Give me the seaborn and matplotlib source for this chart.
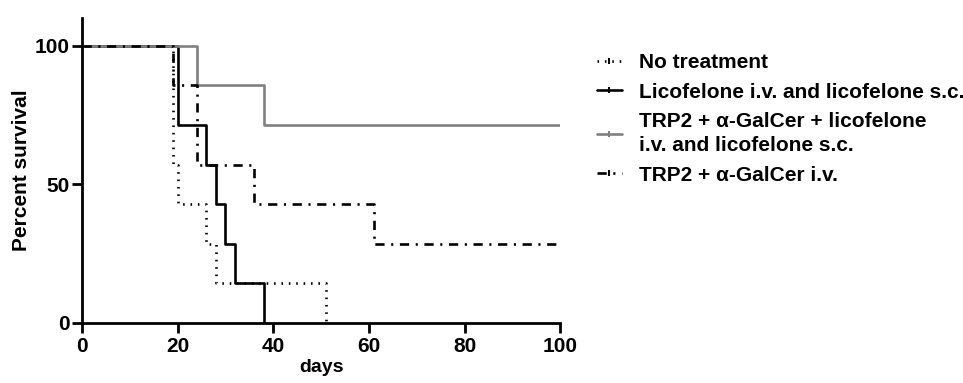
import matplotlib
matplotlib.use("Agg")
import matplotlib.pyplot as plt
from matplotlib.lines import Line2D
import seaborn as sns
import pandas as pd

# Kaplan-Meier step data (event days, survival %)
no_treat_days = [0, 19, 20, 26, 28, 51]
no_treat_surv = [100, 57.1, 42.9, 28.6, 14.3, 0]

lico_days = [0, 20, 26, 28, 30, 32, 38]
lico_surv = [100, 71.4, 57.1, 42.9, 28.6, 14.3, 0]

combo_days = [0, 24, 38, 100]
combo_surv = [100, 85.7, 71.4, 71.4]

trp2_days = [0, 19, 24, 36, 61, 100]
trp2_surv = [100, 85.7, 57.1, 42.9, 28.6, 28.6]

labels = ["No treatment",
          "Licofelone i.v. and licofelone s.c.",
          "TRP2 + \u03b1-GalCer + licofelone\ni.v. and licofelone s.c.",
          "TRP2 + \u03b1-GalCer i.v."]

x_ticks = [0, 20, 40, 60, 80, 100]
y_ticks = [0, 50, 100]

sns.set_style("ticks")
plt.rcParams['font.family'] = ['Liberation Sans', 'DejaVu Sans']
plt.rcParams['font.weight'] = 'bold'
plt.rcParams['text.color'] = 'black'
plt.rcParams['axes.labelcolor'] = 'black'
plt.rcParams['xtick.color'] = 'black'
plt.rcParams['ytick.color'] = 'black'
plt.rcParams['axes.edgecolor'] = 'black'

fig = plt.figure(figsize=(9.63, 3.83), dpi=100)
ax = fig.add_axes([0.085, 0.157, 0.497, 0.796])

series = [
    (no_treat_days, no_treat_surv, dict(color="black", linestyle=(0, (0.6, 2.2)), lw=1.9)),
    (lico_days, lico_surv, dict(color="black", linestyle="-", lw=1.9)),
    (combo_days, combo_surv, dict(color="#808080", linestyle="-", lw=1.9)),
    (trp2_days, trp2_surv, dict(color="black", linestyle=(0, (3.5, 2.5, 0.8, 2.5)), lw=1.9)),
]

handles = []
for (d, s, st), lab in zip(series, labels):
    df = pd.DataFrame({"days": d, "surv": s})
    sns.lineplot(data=df, x="days", y="surv", ax=ax, drawstyle="steps-post",
                 estimator=None, sort=False, legend=False, **st)
    handles.append(Line2D([0], [0], color=st["color"], linestyle=st["linestyle"],
                          lw=st["lw"], marker="|", markersize=5, markeredgewidth=1.5,
                          markevery=[1], label=lab))

ax.set_xlim(0, 100)
ax.set_ylim(0, 110)
ax.set_xticks(x_ticks)
ax.set_yticks(y_ticks)
ax.tick_params(axis="both", labelsize=15, width=2, length=7, color="black",
               labelcolor="black")
ax.tick_params(axis="y", pad=1.5)
for lab in ax.get_xticklabels() + ax.get_yticklabels():
    lab.set_fontweight("bold")
ax.set_xlabel("days", fontsize=14, fontweight="bold", labelpad=2, color="black")
ax.set_ylabel("Percent survival", fontsize=15, fontweight="bold", labelpad=3,
              color="black")
ax.spines["top"].set_visible(False)
ax.spines["right"].set_visible(False)
ax.spines["left"].set_linewidth(2)
ax.spines["bottom"].set_linewidth(2)
ax.spines["bottom"].set_bounds(0, 100)

leg = fig.legend(handles=handles, loc="upper left", bbox_to_anchor=(0.6, 0.91),
                 frameon=False, handlelength=1.2, handletextpad=0.82,
                 labelspacing=0.5, prop={"weight": "bold", "size": 15})
for t in leg.get_texts():
    t.set_color("black")
    t.set_linespacing(1.35)

fig.savefig("out.png", dpi=100)
